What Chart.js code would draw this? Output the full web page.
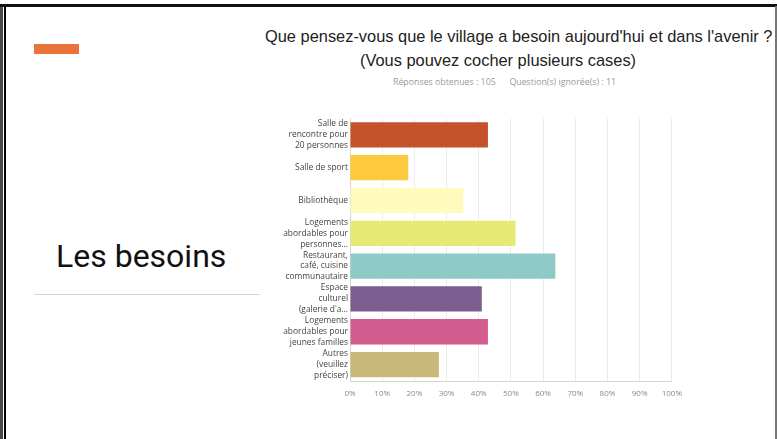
<!DOCTYPE html>
<html lang="fr">
<head>
<meta charset="utf-8">
<script src="https://cdn.jsdelivr.net/npm/chart.js@4/dist/chart.umd.min.js"></script>
<style>
  html, body { margin: 0; padding: 0; background: #fff; }
  body { width: 777px; height: 439px; position: relative; overflow: hidden; }
  .frame-l1 { position: absolute; left: 0; top: 4px; width: 3px; height: 435px; background: #4a4a4a; }
  .frame-l2 { position: absolute; left: 4px; top: 4px; width: 2px; height: 435px; background: #000; }
  .frame-t { position: absolute; left: 0; top: 4px; width: 777px; height: 3px; background: #111; }
  .frame-r { position: absolute; left: 775px; top: 6px; width: 2px; height: 433px; background: #777; }
  .accent { position: absolute; left: 34px; top: 44px; width: 45px; height: 10px; background: #e9733a; }
  .heading { position: absolute; left: 56px; top: 240px; font: 32px Roboto, sans-serif; line-height: 1; color: #111; }
  .rule { position: absolute; left: 34px; top: 294px; width: 226px; height: 1px; background: #d4d4d4; }
  .title { position: absolute; font: 16.4px "Liberation Sans", Arial, sans-serif; line-height: 1; color: #222; white-space: nowrap; }
  .meta { position: absolute; left: 393px; top: 76px; font: 8.8px "Open Sans", sans-serif; color: #999; white-space: nowrap; }
  canvas { position: absolute; left: 270px; top: 100px; }
</style>
</head>
<body>
<div class="frame-l1"></div>
<div class="frame-l2"></div>
<div class="frame-t"></div>
<div class="frame-r"></div>
<div class="accent"></div>
<div class="heading">Les besoins</div>
<div class="rule"></div>
<div class="title" style="left:265px;top:28px">Que pensez-vous que le village a besoin aujourd'hui et dans l'avenir ?</div>
<div class="title" style="left:360px;top:52px">(Vous pouvez cocher plusieurs cases)</div>
<div class="meta">Réponses obtenues : 105&nbsp;&nbsp;&nbsp;&nbsp;&nbsp;&nbsp;Question(s) ignorée(s) : 11</div>
<canvas id="c" width="420" height="311"></canvas>
<script>
// catégories (lignes telles qu'affichées)
var categories = [
  ["Salle de", "rencontre pour", "20 personnes"],
  ["Salle de sport"],
  ["Bibliothèque"],
  ["Logements", "abordables pour", "personnes..."],
  ["Restaurant,", "café, cuisine", "communautaire"],
  ["Espace", "culturel", "(galerie d'a..."],
  ["Logements", "abordables pour", "jeunes familles"],
  ["Autres", "(veuillez", "préciser)"]
];
// pourcentages
var values = [42.86, 18.1, 35.24, 51.43, 63.81, 40.95, 42.86, 27.62];
var colors = ["#c4532b", "#fdc93e", "#fefbbd", "#e4ea74", "#8ecac8", "#7b5e8f", "#d35d8f", "#c8b87a"];
var xTicks = [0, 10, 20, 30, 40, 50, 60, 70, 80, 90, 100];

new Chart(document.getElementById("c"), {
  type: "bar",
  data: {
    labels: categories,
    datasets: [{
      data: values,
      backgroundColor: colors,
      borderWidth: 0,
      barPercentage: 0.77,
      categoryPercentage: 1
    }]
  },
  options: {
    indexAxis: "y",
    responsive: false,
    animation: false,
    layout: { padding: { top: 10, right: 14, left: 0, bottom: 0 } },
    plugins: { legend: { display: false }, tooltip: { enabled: false } },
    scales: {
      x: {
        min: 0, max: 100,
        afterBuildTicks: function (s) { s.ticks = xTicks.map(function (v) { return { value: v }; }); },
        afterFit: function (s) { s.height = 30; },
        grid: { color: "#ececec", drawTicks: false },
        border: { color: "#d6d6d6" },
        ticks: {
          padding: 8,
          color: "#888",
          font: { family: "Open Sans", size: 8 },
          callback: function (v) { return v + "%"; }
        }
      },
      y: {
        afterFit: function (s) { s.width = 80; },
        grid: { display: false, drawTicks: false },
        border: { color: "#d6d6d6" },
        ticks: {
          autoSkip: false,
          padding: 2,
          color: "#444",
          font: { family: "Open Sans", size: 8.4, lineHeight: 1.3 }
        }
      }
    }
  }
});
</script>
</body>
</html>
